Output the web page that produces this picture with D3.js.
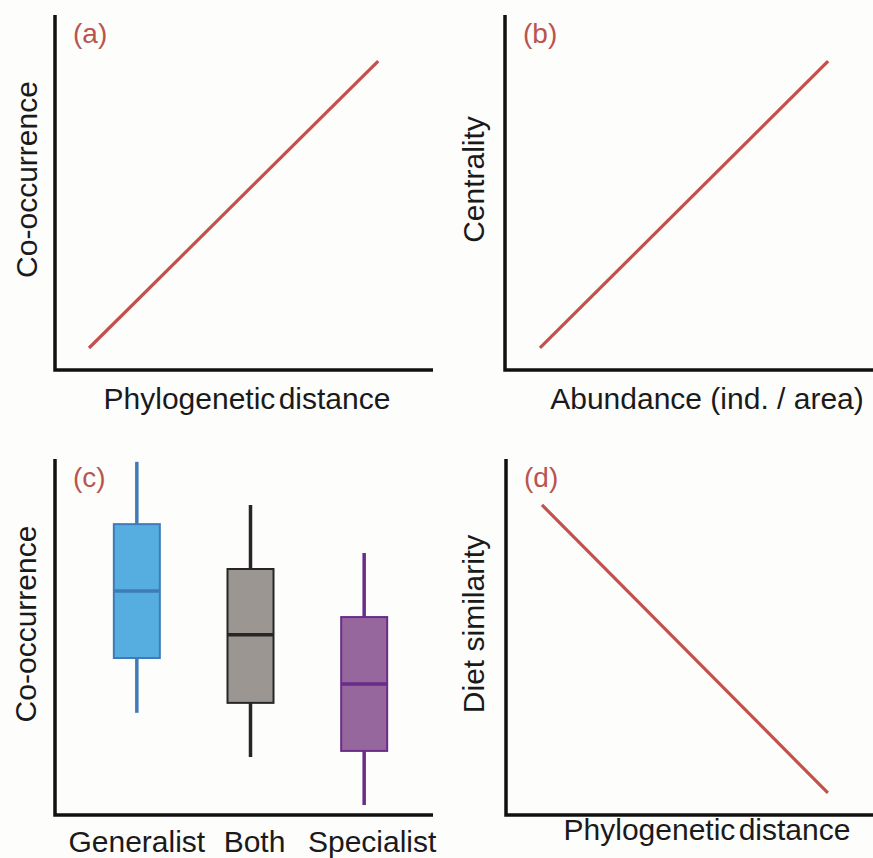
<!DOCTYPE html>
<html>
<head>
<meta charset="utf-8">
<style>
  body { margin: 0; background: #fdfdfc; }
  svg { display: block; font-family: "Liberation Sans", Arial, sans-serif; }
</style>
</head>
<body>
<script src="https://cdn.jsdelivr.net/npm/d3@7"></script>
<script>
// conceptual trend lines, arbitrary units 0..1
const lineA = [[0.09, 0.062], [0.855, 0.87]];
const lineB = [[0.095, 0.062], [0.878, 0.87]];
const lineD = [[0.098, 0.871], [0.877, 0.062]];

// panel (c) box plots, arbitrary units 0..10
const groups = ["Generalist", "Both", "Specialist"];
const whiskerLow  = [2.87, 1.63, 0.28];
const q1          = [4.41, 3.15, 1.80];
const medians     = [6.29, 5.06, 3.68];
const q3          = [8.17, 6.91, 5.56];
const whiskerHigh = [9.92, 8.71, 7.36];
const fills   = ["#56aee0", "#9b9691", "#95679d"];
const strokes = ["#3f7bb9", "#262626", "#6a2c88"];

const panelLetters = ["(a)", "(b)", "(c)", "(d)"];
const yTitles = ["Co-occurrence", "Centrality", "Co-occurrence", "Diet similarity"];
const xTitles = ["Phylogenetic distance", "Abundance (ind. / area)", null, "Phylogenetic distance"];

const red = "#c4504b";
const W = 873, H = 858;
const fs = 30;

const svg = d3.select("body").append("svg").attr("width", W).attr("height", H);

// plot frames: left axis x, right end, top, bottom, title positions
const frames = [
  {x0: 55, x1: 433, y0: 15, y1: 370, yt: 37, xt: 409, xc: 247},
  {x0: 505, x1: 873, y0: 15, y1: 370, yt: 484, xt: 409, xc: 707},
  {x0: 55, x1: 433, y0: 459, y1: 815, yt: 36, xt: 852, xc: 244},
  {x0: 506, x1: 873, y0: 459, y1: 815, yt: 484, xt: 840, xc: 707}
];

frames.forEach((f, i) => {
  const g = svg.append("g");
  // axes
  g.append("path")
    .attr("d", `M${f.x0},${f.y0}V${f.y1}H${f.x1}`)
    .attr("fill", "none").attr("stroke", "#111").attr("stroke-width", 3.5);
  // panel letter
  g.append("text")
    .attr("x", f.x0 + 18).attr("y", f.y0 + 28)
    .attr("fill", "#b9554f").attr("font-size", 28)
    .text(panelLetters[i]);
  // y title
  g.append("text")
    .attr("transform", `translate(${f.yt},${(f.y0 + f.y1) / 2 - 13}) rotate(-90)`)
    .attr("text-anchor", "middle").attr("font-size", fs).attr("fill", "#1a1a1a")
    .text(yTitles[i]);
  if (xTitles[i]) {
    g.append("text")
      .attr("x", f.xc).attr("y", f.xt)
      .attr("text-anchor", "middle").attr("font-size", fs).attr("fill", "#1a1a1a")
      .attr("word-spacing", xTitles[i].startsWith("Phylo") ? -5 : 0)
      .text(xTitles[i]);
  }
});

// trend lines
[[lineA, 0], [lineB, 1], [lineD, 3]].forEach(([data, i]) => {
  const f = frames[i];
  const x = d3.scaleLinear().domain([0, 1]).range([f.x0, f.x1]);
  const y = d3.scaleLinear().domain([0, 1]).range([f.y1, f.y0]);
  svg.append("path")
    .datum(data)
    .attr("d", d3.line().x(d => x(d[0])).y(d => y(d[1])))
    .attr("fill", "none").attr("stroke", red).attr("stroke-width", 3.2);
});

// box plots
const fc = frames[2];
const xc = d3.scalePoint().domain(groups).range([80, 421]).padding(0.5);
const yc = d3.scaleLinear().domain([0, 10]).range([fc.y1, fc.y0]);
const bw = 46;

const boxes = svg.append("g").selectAll("g").data(groups).join("g");
boxes.append("line")
  .attr("x1", d => xc(d)).attr("x2", d => xc(d))
  .attr("y1", (d, i) => yc(whiskerLow[i])).attr("y2", (d, i) => yc(whiskerHigh[i]))
  .attr("stroke", (d, i) => strokes[i]).attr("stroke-width", 3.5);
boxes.append("rect")
  .attr("x", d => xc(d) - bw / 2).attr("width", bw)
  .attr("y", (d, i) => yc(q3[i])).attr("height", (d, i) => yc(q1[i]) - yc(q3[i]))
  .attr("fill", (d, i) => fills[i]).attr("stroke", (d, i) => strokes[i]).attr("stroke-width", 2);
boxes.append("line")
  .attr("x1", d => xc(d) - bw / 2).attr("x2", d => xc(d) + bw / 2)
  .attr("y1", (d, i) => yc(medians[i])).attr("y2", (d, i) => yc(medians[i]))
  .attr("stroke", (d, i) => strokes[i]).attr("stroke-width", 3.5);

svg.append("g").selectAll("text").data(groups).join("text")
  .attr("x", (d, i) => xc(d) + i * 4).attr("y", fc.xt)
  .attr("text-anchor", "middle").attr("font-size", fs).attr("fill", "#1a1a1a")
  .text(d => d);
</script>
</body>
</html>
